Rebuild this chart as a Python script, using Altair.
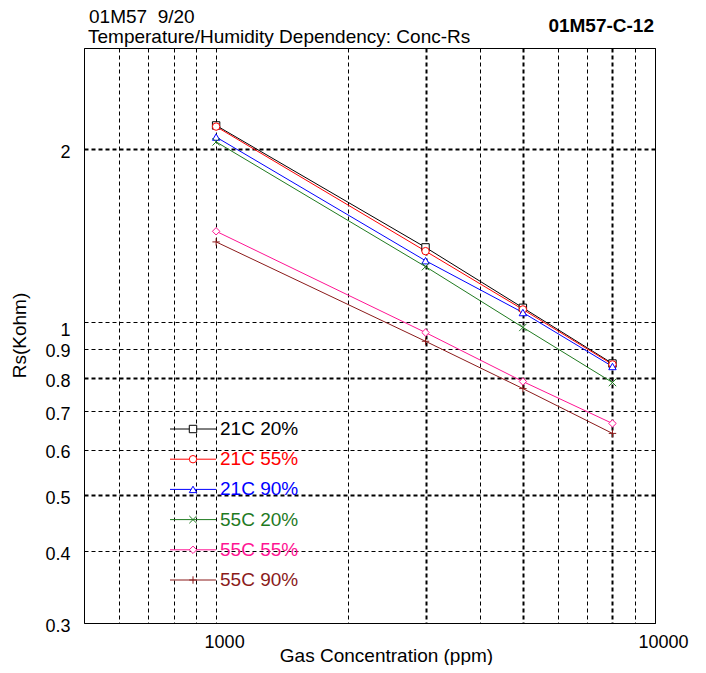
import altair as alt
import pandas as pd

# ---- data ----
series_names = ["21C 20%", "21C 55%", "21C 90%", "55C 20%", "55C 55%", "55C 90%"]
series_colors = ["#000000", "#FF0000", "#0000FF", "#1F7A1F", "#FF1493", "#8B1A1A"]
series_shapes = ["square", "circle", "triangle-up", "M-1,-1L1,1M-1,1L1,-1", "diamond", "M-1,0L1,0M0,-1L0,1"]

conc_ppm = [1000, 3000, 5000, 8000]
rs_21c_20 = [2.20, 1.35, 1.06, 0.848]
rs_21c_55 = [2.19, 1.33, 1.053, 0.845]
rs_21c_90 = [2.10, 1.28, 1.04, 0.838]
rs_55c_20 = [2.06, 1.25, 0.98, 0.786]
rs_55c_55 = [1.44, 0.96, 0.789, 0.667]
rs_55c_90 = [1.38, 0.927, 0.767, 0.641]

x_grid = [600, 700, 800, 900, 1000, 2000, 3000, 4000, 5000, 6000, 7000, 8000, 9000, 10000]
y_grid = [0.3, 0.4, 0.5, 0.6, 0.7, 0.8, 0.9, 1, 2, 3]

title_line1 = "01M57 \u00a09/20"
title_line2 = "Temperature/Humidity Dependency: Conc-Rs"
title_right = "01M57-C-12"
x_title = "Gas Concentration (ppm)"
y_title = "Rs(Kohm)"

# ---- table ----
all_rs = [rs_21c_20, rs_21c_55, rs_21c_90, rs_55c_20, rs_55c_55, rs_55c_90]
rows = []
for i, (name, vals) in enumerate(zip(series_names, all_rs)):
    for c, v in zip(conc_ppm, vals):
        rows.append({"series": name, "order": i, "conc": c, "rs": v})
df = pd.DataFrame(rows)
legend_df = pd.DataFrame({"series": series_names})

FONT = "Liberation Sans"
FS = 18
FT = 19

color_scale = alt.Scale(domain=series_names, range=series_colors)
shape_scale = alt.Scale(domain=series_names, range=series_shapes)

x_enc = alt.X(
    "conc:Q",
    scale=alt.Scale(type="log", domain=[500, 10000], nice=False),
    axis=alt.Axis(
        values=x_grid,
        labelExpr="(datum.value == 1000 || datum.value == 10000) ? format(datum.value, 'd') : ''",
        labelOverlap=False, labelFlush=False, labelBound=False,
        title=x_title, titleX=302, titleY=38, titleBaseline="alphabetic",
        titleAnchor="start", titleAlign="center",
        labelPadding=10, labelOffset=8,
        gridWidth={"condition": {"test": "datum.value == 3000 || datum.value == 5000 || datum.value == 8000", "value": 2}, "value": 1},
    ),
)
y_enc = alt.Y(
    "rs:Q",
    scale=alt.Scale(type="log", domain=[0.3, 3], nice=False),
    axis=alt.Axis(
        values=y_grid,
        labelExpr="datum.value == 3 ? '' : format(datum.value, '~g')",
        labelOverlap=False, labelFlush=False, labelBound=False,
        labelPadding=14,
        labelOffset={"condition": {"test": "datum.value == 1", "value": 8}, "value": 3},
        title=y_title, titleX=-65, titleY=287, titleAngle=270,
        titleAlign="center", titleBaseline="middle",
        gridWidth={"condition": {"test": "datum.value == 2 || datum.value == 0.8 || datum.value == 0.5", "value": 2}, "value": 1},
    ),
)

lines = alt.Chart(df).mark_line(strokeWidth=1).encode(
    x=x_enc, y=y_enc,
    color=alt.Color("series:N", scale=color_scale, legend=None),
    order="order:Q",
)
points = alt.Chart(df).mark_point(fill="white", fillOpacity=1, strokeWidth=1, size=55, opacity=1).encode(
    x=alt.X("conc:Q", scale=alt.Scale(type="log", domain=[500, 10000], nice=False)),
    y=alt.Y("rs:Q", scale=alt.Scale(type="log", domain=[0.3, 3], nice=False)),
    stroke=alt.Stroke("series:N", scale=color_scale, legend=None),
    shape=alt.Shape("series:N", scale=shape_scale, legend=None),
    order="order:Q",
)
main = alt.layer(lines, points)

ly = alt.Y("series:N", scale=alt.Scale(type="point", domain=series_names, range=[381, 532], padding=0), axis=None)
leg_rule = alt.Chart(legend_df).mark_rule(strokeWidth=1).encode(
    x=alt.value(86), x2=alt.value(132), y=ly,
    color=alt.Color("series:N", scale=color_scale, legend=None),
)
leg_pts = alt.Chart(legend_df).mark_point(fill="white", fillOpacity=1, strokeWidth=1, size=55, opacity=1).encode(
    x=alt.value(109), y=ly,
    stroke=alt.Stroke("series:N", scale=color_scale, legend=None),
    shape=alt.Shape("series:N", scale=shape_scale, legend=None),
)
leg_txt = alt.Chart(legend_df).mark_text(align="left", baseline="middle", font=FONT, fontSize=FT, dx=0).encode(
    x=alt.value(136), y=ly, text="series:N",
    color=alt.Color("series:N", scale=color_scale, legend=None),
)
legend = alt.layer(leg_rule, leg_pts, leg_txt)

t1 = alt.Chart(alt.Data(values=[{"t": title_line1}])).mark_text(
    align="left", baseline="alphabetic", font=FONT, fontSize=FT, color="black"
).encode(x=alt.value(5), y=alt.value(-25), text="t:N")
t2 = alt.Chart(alt.Data(values=[{"t": title_line2}])).mark_text(
    align="left", baseline="alphabetic", font=FONT, fontSize=FT, color="black"
).encode(x=alt.value(4), y=alt.value(-5), text="t:N")
t3 = alt.Chart(alt.Data(values=[{"t": title_right}])).mark_text(
    align="right", baseline="alphabetic", font=FONT, fontSize=FT, fontWeight="bold", color="black"
).encode(x=alt.value(570), y=alt.value(-16), text="t:N")

chart = alt.layer(main, legend, t1, t2, t3).resolve_scale(y="independent").properties(
    width=571, height=575,
    autosize=alt.AutoSizeParams(type="none"),
    padding={"left": 76, "top": 40, "right": 43, "bottom": 42},
).configure_view(
    stroke="black", strokeWidth=1
).configure_axis(
    domain=False, ticks=False,
    grid=True, gridColor="black", gridDash=[4, 3], gridOpacity=1,
    labelFont=FONT, labelFontSize=FS, labelColor="black",
    titleFont=FONT, titleFontSize=FT, titleFontWeight="normal", titleColor="black",
)

chart.save("out.html", embed_options={"renderer": "svg", "actions": False})
